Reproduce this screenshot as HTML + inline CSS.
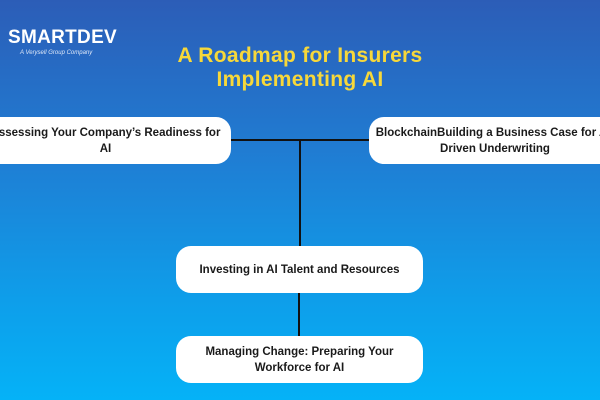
<!DOCTYPE html>
<html><head><meta charset="utf-8"><style>
body{margin:0;width:600px;height:400px;overflow:hidden;position:relative;background:linear-gradient(180deg,#2c5db7 0%,#1f7ed4 40%,#0e9eea 75%,#05b2f7 100%);font-family:"Liberation Sans",sans-serif}
.box{position:absolute;background:#fff;border-radius:15px;display:flex;align-items:center;justify-content:center;text-align:center;font-weight:bold;font-size:11.5px;line-height:16px;color:#1a1a1a;white-space:nowrap;overflow:hidden}
.l{position:absolute;background:#111}
.t{position:absolute;left:100px;width:400px;top:44px;text-align:center;color:#f7d83a;font-weight:bold;font-size:21px;line-height:24px;letter-spacing:0.3px}
</style></head><body>
<div style="position:absolute;left:8px;top:27px;color:#fff;font-size:19px;font-weight:bold;letter-spacing:0.3px">SMARTDEV</div>
<div style="position:absolute;left:20px;top:50px;color:#dfe8f8;font-size:6px;font-style:italic">A Verysell Group Company</div>
<div class="t">A Roadmap for Insurers<br>Implementing AI</div>
<div class="l" style="left:231px;top:139px;width:138px;height:2px"></div>
<div class="l" style="left:299px;top:140px;width:2px;height:106px"></div>
<div class="l" style="left:298px;top:293px;width:2px;height:43px"></div>
<div class="box" style="left:-20px;top:117px;width:251px;height:47px">Assessing Your Company’s Readiness for<br>AI</div>
<div class="box" style="left:369px;top:117px;width:260px;height:47px;justify-content:flex-start"><span style="display:block;width:248px;margin-left:2px">BlockchainBuilding a Business Case for AI-<br>Driven Underwriting</span></div>
<div class="box" style="left:176px;top:246px;width:247px;height:47px">Investing in AI Talent and Resources</div>
<div class="box" style="left:176px;top:336px;width:247px;height:47px">Managing Change: Preparing Your<br>Workforce for AI</div>
</body></html>
